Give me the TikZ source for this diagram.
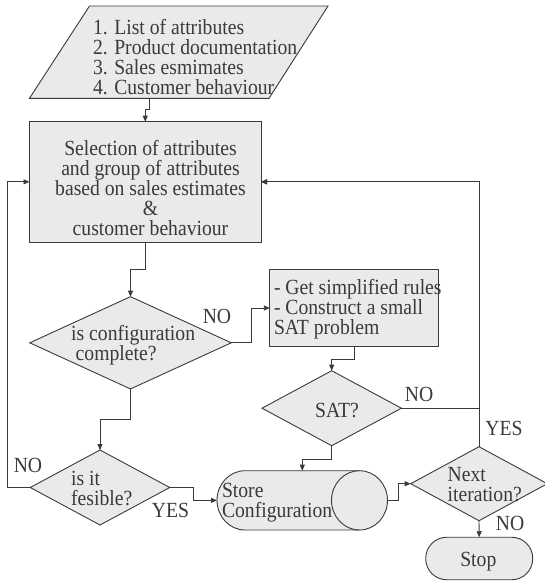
\documentclass[tikz,border=0pt]{standalone}
\usepackage{fontspec}
\setmainfont{Liberation Serif}[FakeStretch=0.91]
\usetikzlibrary{shapes.geometric,arrows.meta}
\definecolor{lc}{HTML}{3A3A3A}
\definecolor{fc}{HTML}{EAEAEA}
\definecolor{tc}{HTML}{3A3A3A}
\newcommand\myfs{\fontsize{21.6}{20}\selectfont}
\tikzset{
  shp/.style={draw=lc, fill=fc, line width=0.9pt, inner sep=0pt, outer sep=0pt},
  txt/.style={inner sep=0pt, outer sep=0pt, font=\myfs, text=tc, align=left},
  lbl/.style={inner sep=0pt, outer sep=0pt, font=\myfs, text=tc},
  conn/.style={draw=lc, line width=0.9pt},
  arr/.style={conn, -{Triangle[length=6pt,width=5pt]}},
}
\begin{document}
\begin{tikzpicture}[x=1pt,y=-1pt]
\useasboundingbox (0,0) rectangle (544,581);
% input parallelogram
\draw[shp] (89.5,6) -- (328,6) -- (269,98.3) -- (29.5,98.3) -- cycle;
\coordinate (inb) at (149,98.3);
\node[txt, anchor=west] (inp) at (93,57) {1. List of attributes\\2. Product documentation\\3. Sales esmimates\\4. Customer behaviour};
% selection box
\node[shp, rectangle, minimum width=231.5pt, minimum height=120.3pt] (sel) at (145.25,181.85) {};
\node[txt, align=center] (seltxt) at (150.5,188) {Selection of attributes\\and group of attributes\\based on sales estimates\\\&\\customer behaviour};
% is configuration complete
\node[shp, diamond, minimum width=201.5pt, minimum height=92.3pt] (conf) at (130.5,342.8) {};
\node[txt, anchor=west] (conftxt) at (71.2,345.2) {is configuration\\\hspace{4.5pt}complete?};
% rules box
\node[shp, rectangle, minimum width=168.4pt, minimum height=77.4pt] (rules) at (354,308) {};
\node[txt, anchor=west] (rulestxt) at (274,308.8) {- Get simplified rules\\- Construct a small\\SAT problem};
% SAT
\node[shp, diamond, minimum width=139.4pt, minimum height=75pt] (sat) at (331.7,408.2) {};
\node[txt] (sattxt) at (337,410) {SAT?};
% feasible
\node[shp, diamond, minimum width=139.5pt, minimum height=75pt] (feas) at (100,487.5) {};
\node[txt, anchor=west] (feastxt) at (71.2,488.8) {is it\\fesible?};
% store configuration (cylinder)
\node[inner sep=0pt, outer sep=0pt, minimum width=170.5pt, minimum height=59.3pt] (store) at (302.25,500.35) {};
\draw[shp] (245,470.7) -- (359.5,470.7)
  .. controls (374.96,470.7) and (387.5,483.97) .. (387.5,500.35)
  .. controls (387.5,516.73) and (374.96,530) .. (359.5,530)
  -- (245,530)
  .. controls (229.54,530) and (217,516.73) .. (217,500.35)
  .. controls (217,483.97) and (229.54,470.7) .. (245,470.7) -- cycle;
\draw[conn] (359.5,470.7) .. controls (344.04,470.7) and (331.5,483.97) .. (331.5,500.35)
  .. controls (331.5,516.73) and (344.04,530) .. (359.5,530);
\node[txt, anchor=west] (storetxt) at (222,503) {Store\\Configuration};
% next iteration
\node[shp, diamond, minimum width=136.6pt, minimum height=74pt] (next) at (479,483.7) {};
\node[txt, anchor=west] (nexttxt) at (447.6,484.5) {Next\\iteration?};
% stop
\node[shp, rectangle, rounded corners=21pt, minimum width=107pt, minimum height=42.5pt] (stop) at (479.2,558.5) {};
\node[txt] (stoptxt) at (478.3,562) {Stop};
% labels
\node[lbl] (lno1) at (217,316) {NO};
\node[lbl] (lno2) at (419,394.3) {NO};
\node[lbl] (lyes1) at (504,428.3) {YES};
\node[lbl] (lno3) at (28,465.7) {NO};
\node[lbl] (lyes2) at (170.5,510) {YES};
\node[lbl] (lno4) at (510,523.3) {NO};
% connectors
\draw[arr] (inb) -- (149,109.3) -| (sel.north);
\draw[arr] (sel.south) -- (145.25,269.3) -| (conf.north);
\draw[arr] (conf.east) -- (251,342.8) |- (rules.west);
\draw[arr] (rules.south) -- (354,359) -| (sat.north);
\draw[arr] (sat.south) -- (331.7,459) -| (store.north);
\draw[arr] (sat.east) -- (479,408.2) |- (sel.east);
\draw[arr] (next.north) |- (sel.east);
\draw[arr] (conf.south) -- (130.5,419.3) -| (feas.north);
\draw[arr] (feas.west) -- (7.6,487.5) |- (sel.west);
\draw[arr] (feas.east) -- (193,487.5) |- (store.west);
\draw[arr] (store.east) -- (398,500.35) |- (next.west);
\draw[arr] (next.south) -- (stop.north);
\end{tikzpicture}
\end{document}
